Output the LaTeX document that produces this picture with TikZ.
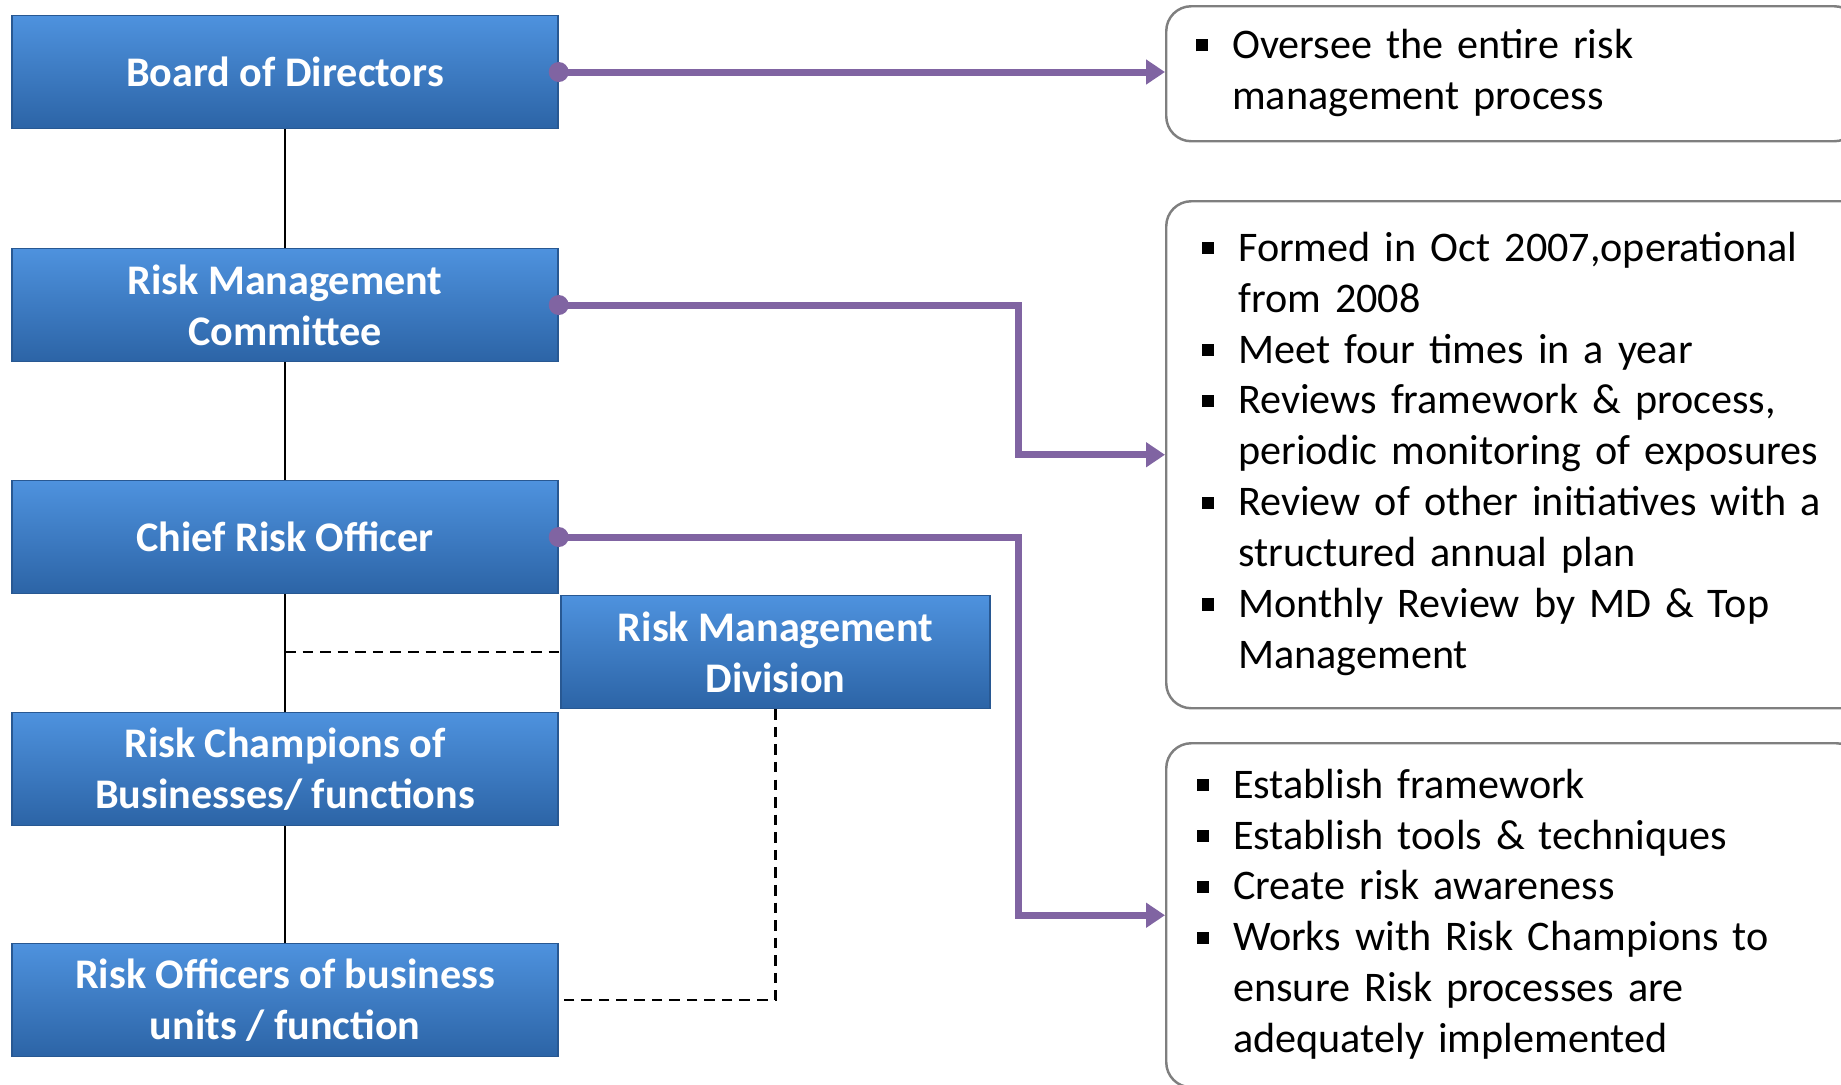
\documentclass[tikz,border=0pt]{standalone}
\usepackage{fontspec}
\setmainfont{Carlito}
\usetikzlibrary{arrows.meta}

\definecolor{boxtop}{RGB}{78,146,222}
\definecolor{boxbot}{RGB}{44,100,166}
\definecolor{boxedge}{RGB}{40,88,146}
\definecolor{linkpurple}{RGB}{128,100,162}
\definecolor{notegray}{RGB}{127,127,127}
\newcommand{\sqbul}{\rule[0.17em]{0.29em}{0.29em}}
\newcommand{\notefont}{\fontsize{12pt}{14.5pt}\selectfont\fontdimen2\font=0.16em\relax}

\begin{document}
\begin{tikzpicture}[
    orgbox/.style={rectangle, draw=boxedge, line width=0.4pt, top color=boxtop, bottom color=boxbot, text=white, font=\fontsize{12pt}{14.5pt}\selectfont\bfseries, align=center, minimum width=5.46cm, minimum height=1.13cm, inner sep=0pt},
    notebox/.style={rectangle, draw=notegray, line width=0.7pt, rounded corners=0.25cm, text width=6.33cm, inner xsep=0.36cm, inner ysep=0pt, align=left, anchor=north west, font=\notefont},
    link/.style={draw=linkpurple, line width=2pt, -{Triangle[length=0.19cm,width=0.24cm]}},
    tree/.style={draw, line width=0.8pt},
    dashlink/.style={draw, line width=0.8pt, dash pattern=on 3pt off 2pt}
]
    \useasboundingbox (0,0) rectangle (18.41,-10.84);
    \clip (0,0) rectangle (18.41,-10.84);

    % hierarchy on the left
    \node [orgbox] (bod) at (2.85,-0.72) {Board of Directors};
    \node [orgbox] (rmc) at (2.85,-3.05) {Risk Management\\Committee};
    \node [orgbox] (cro) at (2.85,-5.37) {Chief Risk Officer};
    \node [orgbox] (champ) at (2.85,-7.69) {Risk Champions of\\Businesses/ functions};
    \node [orgbox] (officer) at (2.85,-10.00) {Risk Officers of business\\units / function};
    \node [orgbox, minimum width=4.29cm] (rmd) at (7.755,-6.52) {Risk Management\\Division};

    % notes on the right
    \node [notebox, minimum height=1.35cm, inner xsep=0.30cm] (note1) at (11.65,-0.05) {%
        \begin{tabular}{@{}p{0.36cm}@{}l@{}}
        \sqbul & Oversee the entire risk\\
               & management process
        \end{tabular}};
    \node [notebox, minimum height=5.07cm] (note2) at (11.65,-2.00) {%
        \begin{tabular}{@{}p{0.36cm}@{}l@{}}
        \sqbul & Formed in Oct 2007,operational\\
               & from 2008\\
        \sqbul & Meet four times in a year\\
        \sqbul & Reviews framework \& process,\\
               & periodic monitoring of exposures\\
        \sqbul & Review of other initiatives with a\\
               & structured annual plan\\
        \sqbul & Monthly Review by MD \& Top\\
               & Management
        \end{tabular}};
    \node [notebox, minimum height=3.44cm, inner xsep=0.31cm] (note3) at (11.65,-7.42) {%
        \begin{tabular}{@{}p{0.36cm}@{}l@{}}
        \sqbul & Establish framework\\
        \sqbul & Establish tools \& techniques\\
        \sqbul & Create risk awareness\\
        \sqbul & Works with Risk Champions to\\
               & ensure Risk processes are\\
               & adequately implemented
        \end{tabular}};

    % reporting lines
    \foreach \a/\b in {bod/rmc, rmc/cro, cro/champ, champ/officer}
        \draw [tree] (\a.south) -- (\b.north);
    \draw [dashlink] (rmd.west -| cro.south) -- (rmd.west);
    \draw [dashlink] (rmd.south) |- (officer.east);

    % links to notes
    \draw [link] (bod.east) -- (bod.east -| note1.west);
    \draw [link] (rmc.east) -- ++(4.6,0) |- (note2.west);
    \draw [link] (cro.east) -- ++(4.6,0) |- (note3.west);
    \foreach \n in {bod, rmc, cro}
        \fill [linkpurple] (\n.east) circle (0.1);
\end{tikzpicture}
\end{document}
